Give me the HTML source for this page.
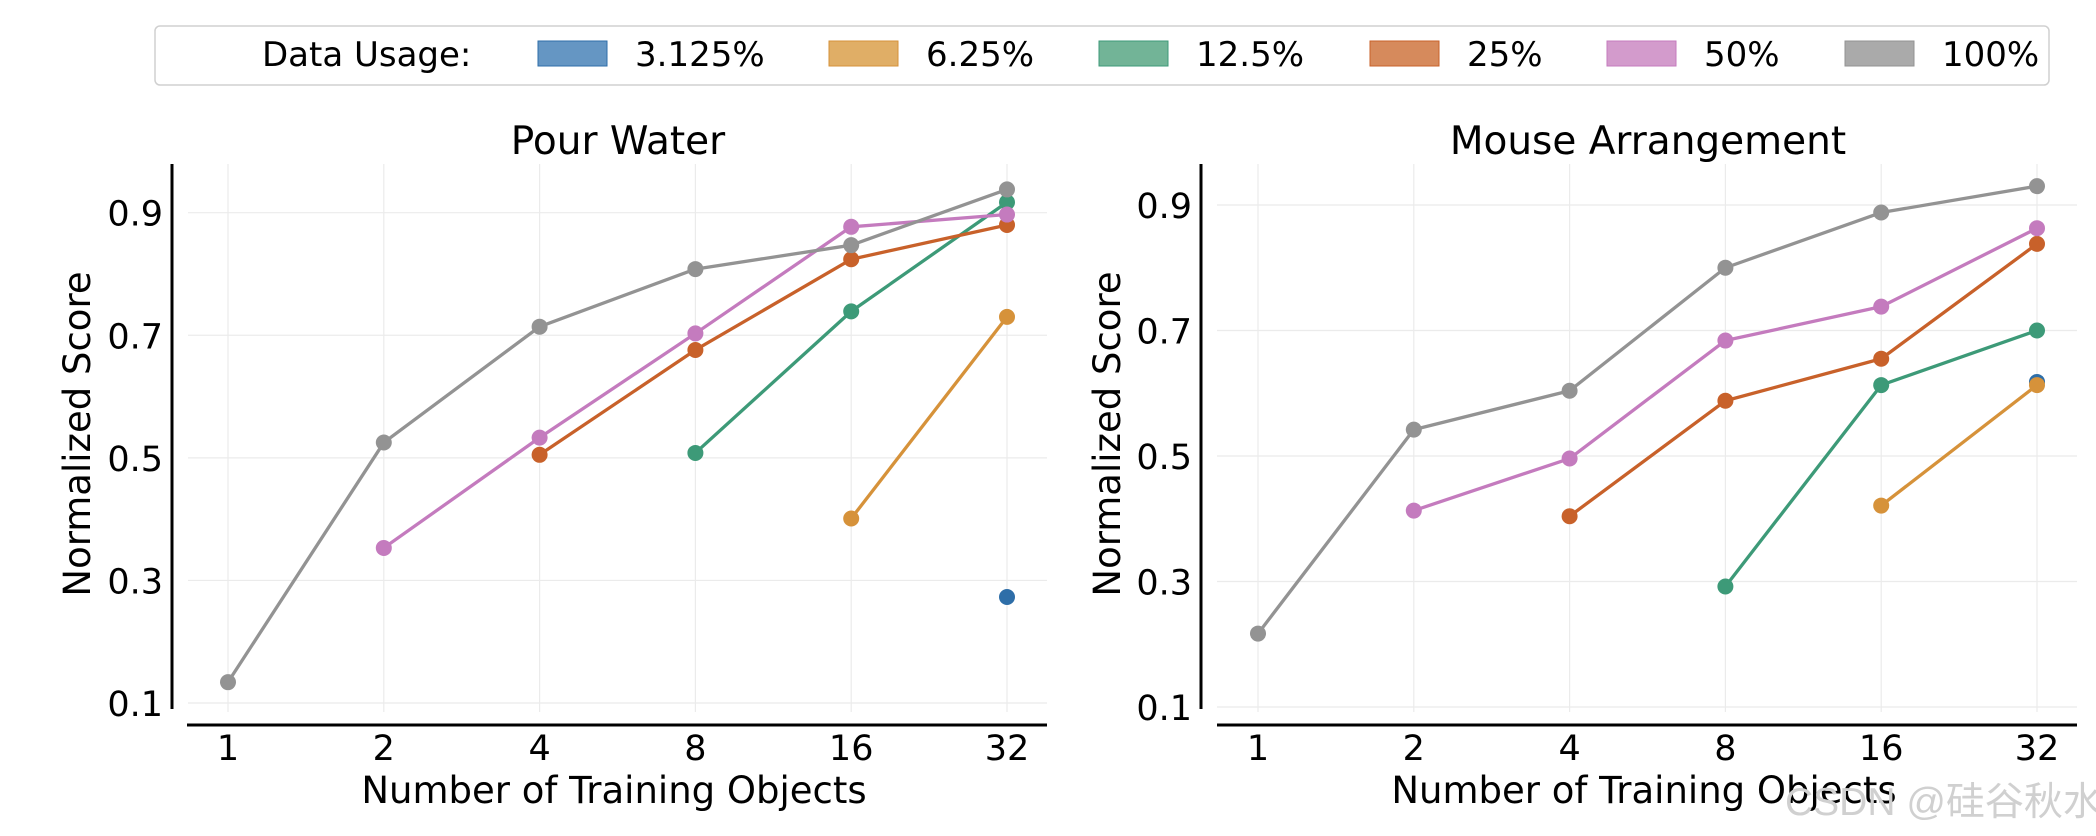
<!DOCTYPE html>
<html><head><meta charset="utf-8"><style>
html,body{margin:0;padding:0;background:#fff;}
svg{display:block;font-family:"DejaVu Sans","Liberation Sans",sans-serif;}
</style></head><body>
<svg id="chart" width="2096" height="836" viewBox="0 0 2096 836" xmlns="http://www.w3.org/2000/svg">
<g id="legend">
<rect x="155" y="26" width="1894" height="59" rx="5" fill="#fff" stroke="#d0d0d0" stroke-width="1.5"/>
<text x="262" y="66" font-size="34">Data Usage:</text>
</g>
<g id="plots"></g>
<text x="1785" y="815" font-size="39" fill="#d0d0d0" font-family="Liberation Sans, Noto Sans CJK SC, sans-serif">CSDN @硅谷秋水</text>
</svg>
<script>
const xCategories = ["1","2","4","8","16","32"];
const yTicks = [0.1,0.3,0.5,0.7,0.9];
const seriesNames = ["3.125%","6.25%","12.5%","25%","50%","100%"];
const seriesColors = ["#2e6ea8","#d6923a","#3d9a78","#c8612a","#c47bbe","#939393"];
const legendColors = ["#6596c3","#e0ae66","#72b497","#d68a5c","#d39bcc","#aaaaaa"];
const pourWater = [
  [null,null,null,null,null,0.273],
  [null,null,null,null,0.401,0.730],
  [null,null,null,0.508,0.739,0.917],
  [null,null,0.505,0.676,0.824,0.880],
  [null,0.353,0.533,0.703,0.877,0.897],
  [0.134,0.525,0.714,0.808,0.847,0.938]
];
const mouseArrangement = [
  [null,null,null,null,null,0.618],
  [null,null,null,null,0.421,0.613],
  [null,null,null,0.292,0.613,0.700],
  [null,null,0.404,0.588,0.655,0.838],
  [null,0.413,0.496,0.684,0.738,0.863],
  [0.217,0.542,0.604,0.800,0.888,0.930]
];
const panelTitles = ["Pour Water","Mouse Arrangement"];

const NS="http://www.w3.org/2000/svg";
function mk(tag,attrs,parent,text){const e=document.createElementNS(NS,tag);for(const k in attrs)e.setAttribute(k,attrs[k]);if(text!==undefined)e.textContent=text;parent.appendChild(e);return e;}

const lg=document.getElementById('legend');
const patchX=[538,829,1099,1370,1607,1845];
seriesNames.forEach((n,i)=>{
  const r=mk('rect',{x:patchX[i],y:41,width:69,height:25,fill:legendColors[i],stroke:seriesColors[i],'stroke-width':1},lg);
  
  
  const t=mk('text',{x:patchX[i]+97,y:66,'font-size':34},lg,n);
  
  
});

const panels=[
  {data:pourWater,title:panelTitles[0],x0:228,dx:155.8,yTop:212.7,yBot:703,spineX:172,bx0:187,bx1:1047,ylabX:77,titleX:618,gx0:188},
  {data:mouseArrangement,title:panelTitles[1],x0:1258,dx:155.8,yTop:205,yBot:707,spineX:1201,bx0:1217,bx1:2077,ylabX:1107,titleX:1648,gx0:1217}
];
const plots=document.getElementById('plots');
panels.forEach((p,pi)=>{
  const g=mk('g',{},plots);
  
  
  const xs=i=>p.x0+i*p.dx;
  const ys=v=>p.yBot+(v-0.1)/(0.8)*(p.yTop-p.yBot);
  xCategories.forEach((c,i)=>{
    const l=mk('line',{x1:xs(i),x2:xs(i),y1:164,y2:712,stroke:'#ebebeb','stroke-width':1.2},g);
    
    
    const t=mk('text',{x:xs(i),y:760,'font-size':35,'text-anchor':'middle'},g,c);
    
    
  });
  yTicks.forEach(v=>{
    const l=mk('line',{x1:p.gx0,x2:p.bx1,y1:ys(v),y2:ys(v),stroke:'#ebebeb','stroke-width':1.2},g);
    
    
    const t=mk('text',{x:p.spineX-9,y:ys(v)+13,'font-size':35,'text-anchor':'end'},g,v.toFixed(1));
    
    
  });
  const s1=mk('line',{x1:p.spineX,x2:p.spineX,y1:164,y2:709,stroke:'#000','stroke-width':3},g);
  
  
  const s2=mk('line',{x1:p.bx0,x2:p.bx1,y1:725,y2:725,stroke:'#000','stroke-width':3},g);
  
  
  const tt=mk('text',{x:p.titleX,y:154,'font-size':39,'text-anchor':'middle'},g,p.title);
  
  
  const xl=mk('text',{x:(p.bx0+p.bx1)/2-3,y:803,'font-size':37,'text-anchor':'middle'},g,'Number of Training Objects');
  
  
  const yl=mk('text',{x:0,y:0,'font-size':37,'text-anchor':'middle',transform:`translate(${p.ylabX+13},434) rotate(-90)`},g,'Normalized Score');
  
  
  p.data.forEach((vals,si)=>{
    const sg=mk('g',{},g);
    
    
    const pts=[];
    vals.forEach((v,i)=>{if(v!==null)pts.push([xs(i),ys(v)]);});
    if(pts.length>1){
      const pl=mk('polyline',{points:pts.map(q=>q.join(',')).join(' '),fill:'none',stroke:seriesColors[si],'stroke-width':3.3,'stroke-linejoin':'round'},sg);
      
      
    }
    pts.forEach(q=>{
      const c=mk('circle',{cx:q[0],cy:q[1],r:8,fill:seriesColors[si]},sg);
      
      
    });
  });
});
</script>
</body></html>
